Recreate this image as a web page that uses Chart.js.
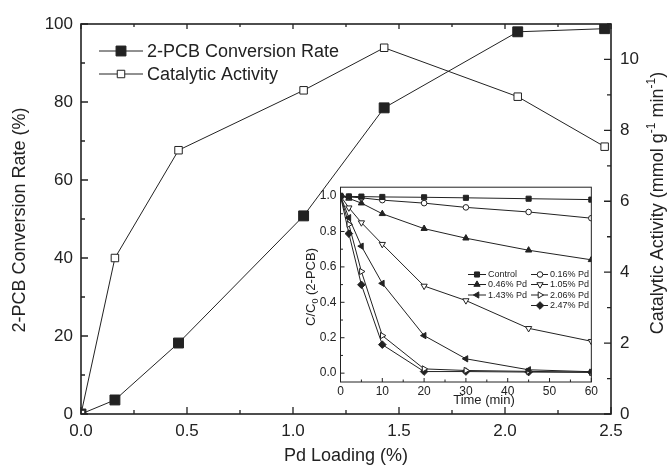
<!DOCTYPE html>
<html>
<head>
<meta charset="utf-8">
<script src="https://cdn.jsdelivr.net/npm/chart.js@4.4.1/dist/chart.umd.min.js"></script>
<style>
  html, body { margin: 0; padding: 0; background: #fff; }
  #wrap { position: relative; width: 669px; height: 468px; }
  #main { position: absolute; left: 0; top: 0; }
  #inset { position: absolute; left: 290px; top: 176px; }
</style>
</head>
<body>
<div id="wrap">
  <canvas id="main" width="669" height="468"></canvas>
  <canvas id="inset" width="310" height="236"></canvas>
</div>
<script>
// ---- main plot data ----
const PD_LOADING = [0, 0.16, 0.46, 1.05, 1.43, 2.06, 2.47];
const CONVERSION = [0, 3.6, 18.2, 50.8, 78.5, 98, 98.8];
const ACTIVITY = [0, 4.40, 7.44, 9.13, 10.33, 8.95, 7.54];
const X_TICKS = [0, 0.5, 1, 1.5, 2, 2.5];
const LEFT_TICKS = [0, 20, 40, 60, 80, 100];
const RIGHT_TICKS = [0, 2, 4, 6, 8, 10];

// ---- inset data (C/C0 vs time) ----
const TIME = [0, 2, 5, 10, 20, 30, 45, 60];
const CONTROL = [1, 0.998, 0.997, 0.995, 0.993, 0.99, 0.985, 0.98];
const PD016 = [1, 0.995, 0.99, 0.977, 0.96, 0.936, 0.91, 0.875];
const PD046 = [1, 0.987, 0.96, 0.90, 0.816, 0.762, 0.694, 0.64];
const PD105 = [1, 0.934, 0.85, 0.728, 0.492, 0.41, 0.253, 0.18];
const PD143 = [1, 0.878, 0.717, 0.507, 0.212, 0.081, 0.019, 0.008];
const PD206 = [1, 0.84, 0.574, 0.212, 0.024, 0.015, 0.01, 0.005];
const PD247 = [1, 0.788, 0.499, 0.161, 0.009, 0.009, 0.006, 0.005];
const TIME_TICKS = [0, 10, 20, 30, 40, 50, 60];
const CC0_TICKS = [0, 0.2, 0.4, 0.6, 0.8, 1.0];

const INK = "#222";
const FONT = '"Liberation Sans", Arial, Helvetica, sans-serif';
const NARROW = '"Liberation Sans Narrow", "Liberation Sans", Arial, sans-serif';
Chart.defaults.font.family = FONT;
Chart.defaults.color = INK;

function steps(from, to, step) {
  const out = [];
  for (let v = from; v <= to + 1e-9; v += step) out.push(+v.toFixed(4));
  return out;
}

function pts(xs, ys) { return xs.map((x, i) => ({ x, y: ys[i] })); }

// inward tick marks along one side of the plot box
function ticksIn(ctx, scale, values, len, side) {
  const a = scale.chart.chartArea;
  ctx.beginPath();
  values.forEach(v => {
    const p = scale.getPixelForValue(v);
    if (side === "left") { ctx.moveTo(a.left, p); ctx.lineTo(a.left + len, p); }
    if (side === "right") { ctx.moveTo(a.right, p); ctx.lineTo(a.right - len, p); }
    if (side === "bottom") { ctx.moveTo(p, a.bottom); ctx.lineTo(p, a.bottom - len); }
    if (side === "top") { ctx.moveTo(p, a.top); ctx.lineTo(p, a.top + len); }
  });
  ctx.stroke();
}

// draw rotated text pieces; pieces = [text, size, shift]
function rotatedText(ctx, x, y, pieces) {
  ctx.save();
  ctx.translate(x, y);
  ctx.rotate(-Math.PI / 2);
  ctx.fillStyle = INK;
  ctx.textBaseline = "alphabetic";
  ctx.textAlign = "left";
  let total = 0;
  pieces.forEach(p => { ctx.font = p[1] + "px " + FONT; total += ctx.measureText(p[0]).width; });
  let cx = -total / 2;
  pieces.forEach(p => {
    ctx.font = p[1] + "px " + FONT;
    ctx.fillText(p[0], cx, p[2]);
    cx += ctx.measureText(p[0]).width;
  });
  ctx.restore();
}

function marker(ctx, style, x, y, r, filled, rotation) {
  ctx.save();
  ctx.fillStyle = filled ? INK : "#fff";
  ctx.strokeStyle = INK;
  ctx.lineWidth = 1;
  Chart.helpers.drawPoint(ctx, { pointStyle: style, radius: r, rotation: rotation || 0, borderWidth: 1 }, x, y);
  ctx.restore();
}

const mainDecor = {
  id: "mainDecor",
  afterDraw(chart) {
    const ctx = chart.ctx, a = chart.chartArea;
    const sx = chart.scales.x, sy = chart.scales.y, sy1 = chart.scales.y1;
    ctx.save();
    ctx.strokeStyle = INK;
    ctx.lineWidth = 1.6;
    ctx.strokeRect(a.left, a.top, a.right - a.left, a.bottom - a.top);
    ctx.lineWidth = 1.3;
    ticksIn(ctx, sy, steps(0, 100, 20), 7, "left");
    ticksIn(ctx, sy, steps(10, 90, 20), 4, "left");
    ticksIn(ctx, sy1, steps(0, 10, 2), 7, "right");
    ticksIn(ctx, sy1, steps(1, 11, 2), 4, "right");
    ticksIn(ctx, sx, steps(0, 2.5, 0.5), 7, "bottom");
    ticksIn(ctx, sx, steps(0.25, 2.25, 0.5), 4, "bottom");
    ticksIn(ctx, sx, steps(0, 2.5, 0.5), 5, "top");
    ticksIn(ctx, sx, steps(0.25, 2.25, 0.5), 3, "top");

    // axis titles
    ctx.fillStyle = INK;
    ctx.font = "18px " + FONT;
    ctx.textAlign = "center";
    ctx.textBaseline = "middle";
    ctx.fillText("Pd Loading (%)", (a.left + a.right) / 2, 456);
    rotatedText(ctx, 25, 220, [["2-PCB Conversion Rate (%)", 18, 0]]);
    rotatedText(ctx, 663, 203, [
      ["Catalytic Activity (mmol g", 18, 0], ["-1", 12, -8],
      [" min", 18, 0], ["-1", 12, -8], [")", 18, 0]
    ]);

    // legend
    const rows = [["2-PCB Conversion Rate", true, 51], ["Catalytic Activity", false, 74]];
    ctx.font = "18px " + FONT;
    ctx.textAlign = "left";
    rows.forEach(([label, filled, y]) => {
      ctx.strokeStyle = INK;
      ctx.lineWidth = 1;
      ctx.beginPath(); ctx.moveTo(99, y); ctx.lineTo(143, y); ctx.stroke();
      marker(ctx, "rect", 121, y, filled ? 7 : 5.3, filled);
      ctx.fillStyle = INK;
      ctx.fillText(label, 147, y + 1);
    });
    ctx.restore();
  }
};

new Chart(document.getElementById("main"), {
  type: "line",
  data: {
    datasets: [
      {
        label: "Catalytic Activity", data: pts(PD_LOADING, ACTIVITY), yAxisID: "y1", order: 0,
        borderColor: INK, borderWidth: 1, pointStyle: "rect", pointRadius: 5.3,
        pointBackgroundColor: "#fff", pointBorderColor: INK, pointBorderWidth: 1
      },
      {
        label: "2-PCB Conversion Rate", data: pts(PD_LOADING, CONVERSION), yAxisID: "y", order: 1,
        borderColor: INK, borderWidth: 1, pointStyle: "rect", pointRadius: 7,
        pointBackgroundColor: INK, pointBorderColor: INK, pointBorderWidth: 1
      }
    ]
  },
  options: {
    responsive: false, animation: false,
    layout: { padding: { top: 24, left: 0, right: 0, bottom: 0 } },
    plugins: { legend: { display: false }, tooltip: { enabled: false } },
    scales: {
      x: {
        type: "linear", min: 0, max: 2.5,
        afterBuildTicks: s => { s.ticks = X_TICKS.map(v => ({ value: v })); },
        afterFit: s => { s.height = 54; },
        grid: { display: false, drawTicks: false }, border: { display: false },
        ticks: { font: { size: 17 }, padding: 7, color: INK, callback: v => v.toFixed(1), maxRotation: 0 }
      },
      y: {
        position: "left", min: 0, max: 100,
        afterBuildTicks: s => { s.ticks = LEFT_TICKS.map(v => ({ value: v })); },
        afterFit: s => { s.width = 81; },
        grid: { display: false, drawTicks: false }, border: { display: false },
        ticks: { font: { size: 17 }, padding: 8, color: INK }
      },
      y1: {
        position: "right", min: 0, max: 11,
        afterBuildTicks: s => { s.ticks = RIGHT_TICKS.map(v => ({ value: v })); },
        afterFit: s => { s.width = 58; },
        grid: { display: false, drawTicks: false }, border: { display: false },
        ticks: { font: { size: 17 }, padding: 9, color: INK }
      }
    }
  },
  plugins: [mainDecor]
});

// ---- inset ----
const SERIES = [
  { label: "Control", data: CONTROL, style: "rect", r: 3.6, filled: true, rot: 0 },
  { label: "0.16% Pd", data: PD016, style: "circle", r: 2.8, filled: false, rot: 0 },
  { label: "0.46% Pd", data: PD046, style: "triangle", r: 3.6, filled: true, rot: 0 },
  { label: "1.05% Pd", data: PD105, style: "triangle", r: 3.6, filled: false, rot: 180 },
  { label: "1.43% Pd", data: PD143, style: "triangle", r: 3.6, filled: true, rot: 270 },
  { label: "2.06% Pd", data: PD206, style: "triangle", r: 3.6, filled: false, rot: 90 },
  { label: "2.47% Pd", data: PD247, style: "rectRot", r: 3.8, filled: true, rot: 0 }
];

const insetDecor = {
  id: "insetDecor",
  beforeDraw(chart) {
    const ctx = chart.ctx, a = chart.chartArea;
    ctx.save();
    ctx.fillStyle = "#fff";
    ctx.fillRect(a.left, a.top, a.right - a.left, a.bottom - a.top);
    ctx.restore();
  },
  afterDraw(chart) {
    const ctx = chart.ctx, a = chart.chartArea;
    const sx = chart.scales.x, sy = chart.scales.y;
    ctx.save();
    ctx.strokeStyle = INK;
    ctx.lineWidth = 1;
    ctx.strokeRect(a.left, a.top, a.right - a.left, a.bottom - a.top);
    ticksIn(ctx, sx, steps(0, 60, 10), 4, "bottom");
    ticksIn(ctx, sx, steps(5, 55, 10), 2.5, "bottom");
    ticksIn(ctx, sy, steps(0, 1, 0.2), 4, "left");
    ticksIn(ctx, sy, steps(0.1, 0.9, 0.2), 2.5, "left");

    ctx.fillStyle = INK;
    ctx.font = "13px " + FONT;
    ctx.textAlign = "center";
    ctx.textBaseline = "middle";
    ctx.fillText("Time (min)", 194, 224);
    rotatedText(ctx, 25, 111, [["C/C", 13, 0], ["0", 9, 3], [" (2-PCB)", 13, 0]]);

    // legend, two columns
    const cols = [{ l0: 178, l1: 196, m: 187, t: 198 }, { l0: 241, l1: 258, m: 250, t: 260 }];
    const rowsY = [98.5, 108.5, 119, 129.5];
    ctx.font = "9px " + FONT;
    ctx.textAlign = "left";
    SERIES.forEach((s, i) => {
      const c = i === 6 ? cols[1] : cols[i % 2];
      const y = rowsY[Math.floor(i / 2)];
      ctx.strokeStyle = INK;
      ctx.beginPath(); ctx.moveTo(c.l0, y); ctx.lineTo(c.l1, y); ctx.stroke();
      marker(ctx, s.style, c.m, y, s.r, s.filled, s.rot);
      ctx.fillStyle = INK;
      ctx.fillText(s.label, c.t, y + 0.5);
    });
    ctx.restore();
  }
};

new Chart(document.getElementById("inset"), {
  type: "line",
  data: {
    datasets: SERIES.map(s => ({
      label: s.label, data: pts(TIME, s.data),
      borderColor: INK, borderWidth: 1,
      pointStyle: s.style, pointRadius: s.r, pointRotation: s.rot,
      pointBackgroundColor: s.filled ? INK : "#fff", pointBorderColor: INK, pointBorderWidth: 1
    }))
  },
  options: {
    responsive: false, animation: false,
    layout: { padding: { top: 10, right: 7, left: 0, bottom: 0 } },
    plugins: { legend: { display: false }, tooltip: { enabled: false } },
    scales: {
      x: {
        type: "linear", min: 0, max: 60,
        afterBuildTicks: s => { s.ticks = TIME_TICKS.map(v => ({ value: v })); },
        afterFit: s => { s.height = 30; },
        grid: { display: false, drawTicks: false }, border: { display: false },
        ticks: { font: { size: 12, family: NARROW }, padding: 2, color: INK, maxRotation: 0 }
      },
      y: {
        min: -0.05, max: 1.05,
        afterBuildTicks: s => { s.ticks = CC0_TICKS.map(v => ({ value: v })); },
        afterFit: s => { s.width = 50.5; },
        grid: { display: false, drawTicks: false }, border: { display: false },
        ticks: { font: { size: 12, family: NARROW }, padding: 4, color: INK, callback: v => v.toFixed(1) }
      }
    }
  },
  plugins: [insetDecor]
});
</script>
</body>
</html>
